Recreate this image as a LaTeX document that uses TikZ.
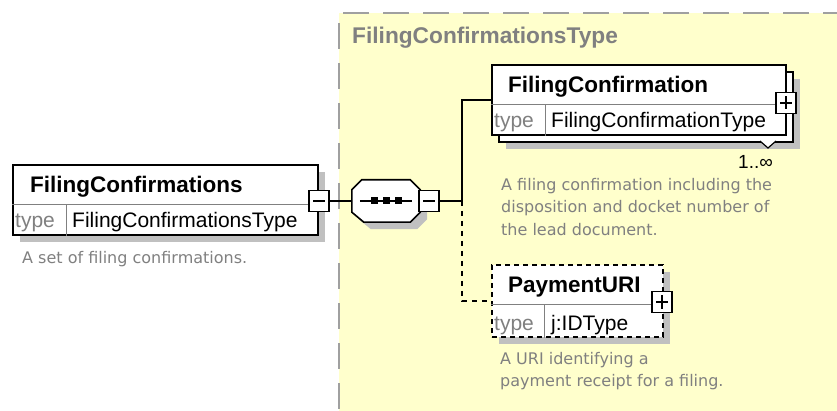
\documentclass[tikz,border=0pt]{standalone}
\usepackage{fontspec}
\setmainfont{Liberation Sans}
\newfontfamily\descfont{DejaVu Sans}
\usetikzlibrary{shadows}

\definecolor{typebg}{RGB}{255,255,204}
\definecolor{shadowgray}{RGB}{192,192,192}
\definecolor{framegray}{RGB}{160,160,160}
\definecolor{textgray}{RGB}{128,128,128}

\tikzset{
    elembox/.style={draw, fill=white, line width=1.6pt, rectangle, inner sep=0pt},
    boxshadow/.style={general shadow={fill=shadowgray, shadow xshift=7pt, shadow yshift=-7pt}},
    divider/.style={draw=textgray, line width=1pt},
    toggle/.style={draw, fill=white, line width=1.4pt, minimum width=20pt, minimum height=21pt, inner sep=0pt},
    collapse/.style={toggle, path picture={
        \draw[line width=1.4pt] ([xshift=4pt]path picture bounding box.west) -- ([xshift=-4pt]path picture bounding box.east);}},
    expand/.style={toggle, path picture={
        \draw[line width=1.4pt] ([xshift=4pt]path picture bounding box.west) -- ([xshift=-4pt]path picture bounding box.east);
        \draw[line width=1.4pt] ([yshift=-4pt]path picture bounding box.north) -- ([yshift=4pt]path picture bounding box.south);}},
    elname/.style={font=\bfseries\fontsize{22.5}{24}\selectfont, anchor=base west, inner sep=0pt},
    eltype/.style={font=\fontsize{21}{24}\selectfont, anchor=base west, inner sep=0pt},
    typekey/.style={eltype, text=textgray},
    doc/.style={font=\descfont\fontsize{16}{22.5}\selectfont, text=textgray, align=left, anchor=north west, inner sep=0pt},
    link/.style={line width=1.5pt},
    elbow/.style={to path={|- (\tikztotarget)}},
}

\begin{document}
\begin{tikzpicture}[x=1pt, y=-1pt]
    \useasboundingbox (0,0) rectangle (837,411);
    \clip (0,0) rectangle (837,411);

    % complex type area
    \node[draw=framegray, fill=typebg, line width=2pt, dash pattern=on 26pt off 14pt,
          minimum width=540pt, minimum height=430pt, anchor=north west] (ctype) at (338,12) {};
    \node[font=\bfseries\fontsize{22.7}{24}\selectfont, text=textgray, anchor=base west, inner sep=0pt]
          (ctitle) at (352,44) {FilingConfirmationsType};

    % FilingConfirmations
    \node[elembox, boxshadow, minimum width=305pt, minimum height=70pt] (fcs) at (165.5,200) {};
    \draw[divider] ([yshift=-40pt]fcs.north west) -- ([yshift=-40pt]fcs.north east);
    \draw[divider] ([xshift=54pt]fcs.south west) -- ([xshift=54pt,yshift=-40pt]fcs.north west);
    \node[elname]  (fcsname) at (30,193)  {FilingConfirmations};
    \node[typekey] (fcskey)  at (15,228)  {type};
    \node[eltype]  (fcstype) at (72,228)  {FilingConfirmationsType};
    \node[collapse] (fcsx)   at (319,201) {};
    \node[doc]     (fcsdoc)  at (22,251)  {A set of filing confirmations.};

    % sequence
    \node[minimum width=68pt, minimum height=42pt, inner sep=0pt] (seq) at (386,201) {};
    \draw[fill=white, line width=1.6pt, boxshadow]
        ([xshift=10pt]seq.north west) -- ([xshift=-10pt]seq.north east)
        -- ([yshift=-10pt]seq.north east) -- ([yshift=10pt]seq.south east)
        -- ([xshift=-10pt]seq.south east) -- ([xshift=12pt]seq.south west)
        -- ([yshift=10pt]seq.south west) -- ([yshift=-10pt]seq.north west) -- cycle;
    \draw[link] ([xshift=8pt]seq.west) -- ([xshift=-8pt]seq.east);
    \foreach \dx in {-12,0,12}
        \fill ([xshift=\dx pt]seq.center) ++(-3.5,-3.5) rectangle ++(7,7);
    \node[collapse] (seqx) at (429,201) {};
    \coordinate (jn) at (462,201);

    % FilingConfirmation
    \node[elembox, boxshadow, minimum width=294pt, minimum height=70pt] (fcback) at (646,107) {};
    \node[elembox, minimum width=294pt, minimum height=70pt] (fc) at (639,100) {};
    \draw[divider] ([yshift=-40pt]fc.north west) -- ([yshift=-40pt]fc.north east);
    \draw[divider] ([xshift=54pt]fc.south west) -- ([xshift=54pt,yshift=-40pt]fc.north west);
    \node[elname]  (fcname) at (508,93)  {FilingConfirmation};
    \node[typekey] (fckey)  at (494,128) {type};
    \node[eltype]  (fctype) at (551,128) {FilingConfirmationType};
    \node[expand]  (fcx)    at (786,103) {};
    \draw[line width=1.2pt, fill=white] (760,141) -- (768,148) -- (776,141);
    \node[anchor=base west, inner sep=0pt, font=\fontsize{19}{22}\selectfont] (fcocc) at (738,169) {1..∞};
    \node[doc] (fcdoc) at (501,178) {A filing confirmation including the\\disposition and docket number of\\the lead document.};

    % PaymentURI
    \node[elembox, dash pattern=on 5pt off 4pt, boxshadow, minimum width=171pt, minimum height=72pt] (uri) at (577.5,301) {};
    \draw[divider] ([yshift=-40pt]uri.north west) -- ([yshift=-40pt]uri.north east);
    \draw[divider] ([xshift=53pt]uri.south west) -- ([xshift=53pt,yshift=-40pt]uri.north west);
    \node[elname]  (uriname) at (508,293) {PaymentURI};
    \node[typekey] (urikey)  at (494,330) {type};
    \node[eltype]  (uritype) at (551,330) {j:IDType};
    \node[expand]  (urix)    at (662,302) {};
    \node[doc] (uridoc) at (500,352) {A URI identifying a\\payment receipt for a filing.};

    \path[link]
        (fcsx)
            edge (seq)
        (seqx)
            edge (jn)
        (jn)
            edge [elbow] (fc)
            edge [elbow, dash pattern=on 5pt off 5pt] (uri)
        ;
\end{tikzpicture}
\end{document}
